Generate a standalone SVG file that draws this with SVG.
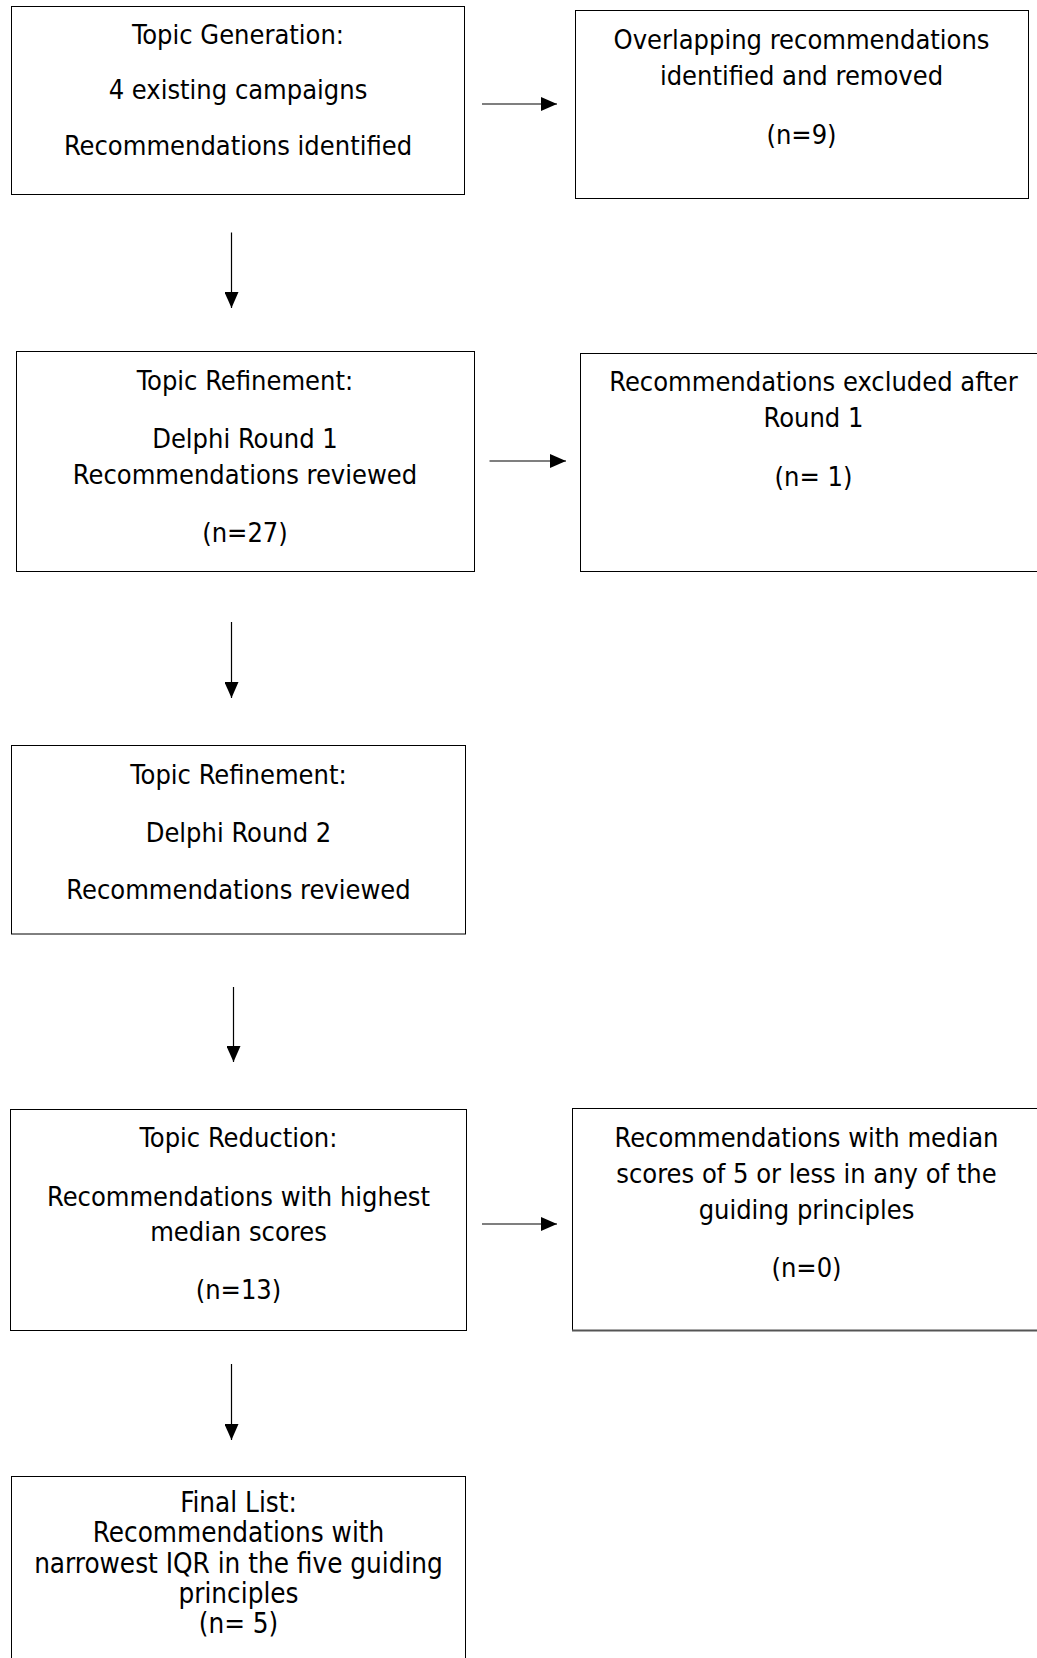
<svg xmlns="http://www.w3.org/2000/svg" width="1037" height="1658" viewBox="0 0 1037 1658">
<style>
  .box { fill: #ffffff; stroke: #000000; stroke-width: 1; }
  .t { font-family: 'DejaVu Sans Condensed', 'DejaVu Sans', sans-serif; font-stretch: condensed; font-size: 27px; fill: #000000; text-anchor: middle; }
  .t2 { font-size: 27.6px; }
  .conn { stroke: #000000; stroke-width: 1.2; fill: none; marker-end: url(#arrow); }
</style>
<defs>
  <marker id="arrow" markerUnits="userSpaceOnUse" markerWidth="16" markerHeight="14" refX="16" refY="7" orient="auto">
    <path d="M0,0 L16,7 L0,14 Z" fill="#000000"/>
  </marker>
</defs>
<rect x="0" y="0" width="1037" height="1658" fill="#ffffff"/>

<g id="n1">
  <rect class="box" x="11.5" y="6.5" width="453" height="188"/>
  <text class="t" x="238" y="44">Topic Generation:</text>
  <text class="t" x="238" y="99">4 existing campaigns</text>
  <text class="t" x="238" y="155">Recommendations identified</text>
</g>

<g id="n2">
  <rect class="box" x="575.5" y="10.5" width="453" height="188"/>
  <text class="t" x="801.5" y="49">Overlapping recommendations</text>
  <text class="t" x="801.5" y="84.5">identified and removed</text>
  <text class="t" x="801.5" y="144">(n=9)</text>
</g>

<g id="n3">
  <rect class="box" x="16.5" y="351.5" width="458" height="220"/>
  <text class="t" x="245" y="390">Topic Refinement:</text>
  <text class="t" x="245" y="448">Delphi Round 1</text>
  <text class="t" x="245" y="484">Recommendations reviewed</text>
  <text class="t" x="245" y="542">(n=27)</text>
</g>

<g id="n4">
  <rect class="box" x="580.5" y="353.5" width="470" height="218"/>
  <text class="t" x="813.5" y="391">Recommendations excluded after</text>
  <text class="t" x="813.5" y="426.5">Round 1</text>
  <text class="t" x="813.5" y="485.5">(n= 1)</text>
</g>

<g id="n5">
  <rect class="box" x="11.5" y="745.5" width="454" height="188.5"/>
  <text class="t" x="238.5" y="784">Topic Refinement:</text>
  <text class="t" x="238.5" y="842">Delphi Round 2</text>
  <text class="t" x="238.5" y="899">Recommendations reviewed</text>
</g>

<g id="n6">
  <rect class="box" x="10.5" y="1109.5" width="456" height="221"/>
  <text class="t" x="238.5" y="1147">Topic Reduction:</text>
  <text class="t" x="238.5" y="1206">Recommendations with highest</text>
  <text class="t" x="238.5" y="1241">median scores</text>
  <text class="t" x="238.5" y="1299">(n=13)</text>
</g>

<g id="n7">
  <rect class="box" x="572.5" y="1108.5" width="470" height="222"/>
  <line x1="572" y1="1330.5" x2="1037" y2="1330.5" stroke="#555555" stroke-width="2"/>
  <text class="t" x="806.5" y="1146.5">Recommendations with median</text>
  <text class="t" x="806.5" y="1183">scores of 5 or less in any of the</text>
  <text class="t" x="806.5" y="1219">guiding principles</text>
  <text class="t" x="806.5" y="1277">(n=0)</text>
</g>

<g id="n8">
  <rect class="box" x="11.5" y="1476.5" width="454" height="200"/>
  <text class="t t2" x="238.5" y="1511.5">Final List:</text>
  <text class="t t2" x="238.5" y="1542">Recommendations with</text>
  <text class="t t2" x="238.5" y="1572.5">narrowest IQR in the five guiding</text>
  <text class="t t2" x="238.5" y="1603">principles</text>
  <text class="t t2" x="238.5" y="1633">(n= 5)</text>
</g>

<g id="connectors">
  <line class="conn" x1="482" y1="104" x2="557" y2="104"/>
  <line class="conn" x1="231.5" y1="232.5" x2="231.5" y2="308"/>
  <line class="conn" x1="489.5" y1="461" x2="566" y2="461"/>
  <line class="conn" x1="231.5" y1="622" x2="231.5" y2="698"/>
  <line class="conn" x1="233.5" y1="987" x2="233.5" y2="1062"/>
  <line class="conn" x1="482" y1="1224" x2="557" y2="1224"/>
  <line class="conn" x1="231.5" y1="1364" x2="231.5" y2="1440"/>
</g>
</svg>
